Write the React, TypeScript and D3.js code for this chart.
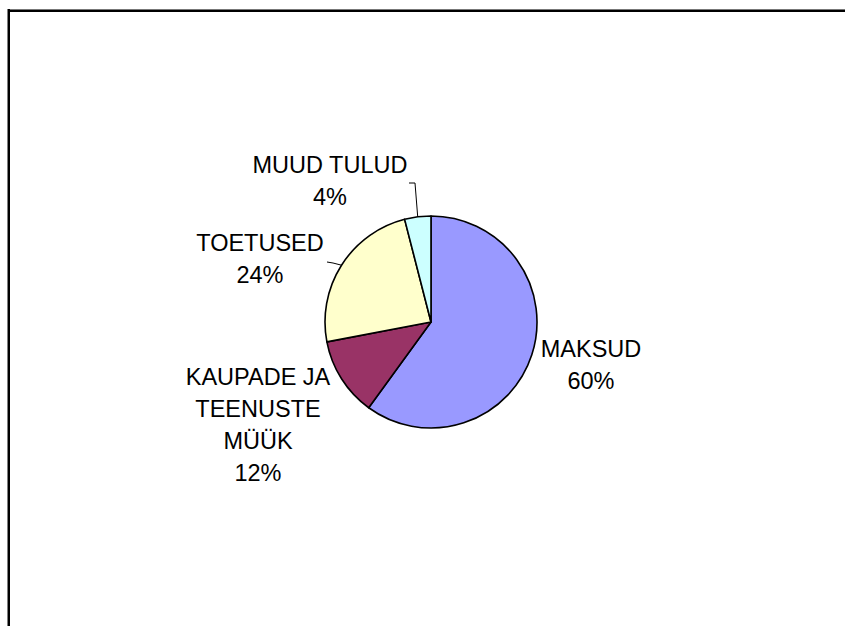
import React from "react";
import * as d3 from "d3";

const categories = ["MAKSUD", "KAUPADE JA TEENUSTE MÜÜK", "TOETUSED", "MUUD TULUD"];
const values = [60, 12, 24, 4];
const percentLabels = ["60%", "12%", "24%", "4%"];
const labelLines = [["MAKSUD"], ["KAUPADE JA", "TEENUSTE", "MÜÜK"], ["TOETUSED"], ["MUUD TULUD"]];
const colors = ["#9999FF", "#993366", "#FFFFCC", "#CCFFFF"];

const W = 845;
const H = 626;
const cx = 431;
const cy = 322;
const radius = 106;
const fontSize = 23.5;
const lineH = 32;

// where each label block sits (center x, first baseline), relative to the pie center
const labelPlace = [
  { dx: 160, dy: 35 },
  { dx: -173, dy: 63 },
  { dx: -171, dy: -71 },
  { dx: -101, dy: -149 },
];
// which labels get a leader line, and where it starts (relative to center)
const leaderStart: { [k: number]: [number, number] } = {
  2: [-104, -60],
  3: [-22, -139],
};

function App() {
  const pie = d3.pie<number>().sort(null).startAngle(0).endAngle(2 * Math.PI);
  const arcs = pie(values);
  const arc = d3.arc<d3.PieArcDatum<number>>().innerRadius(0).outerRadius(radius);
  const edge = d3.arc<d3.PieArcDatum<number>>().innerRadius(radius).outerRadius(radius);

  return (
    <div style={{ position: "fixed", left: 0, top: 0, width: W, height: H, background: "#fff" }}>
      <svg width={W} height={H} style={{ display: "block" }}>
        {/* frame: only top and left edges visible */}
        <line x1={8} y1={9.5} x2={W} y2={9.5} stroke="#777" strokeWidth={1} />
        <line x1={8} y1={11} x2={W} y2={11} stroke="#000" strokeWidth={2} />
        <line x1={8.75} y1={9} x2={8.75} y2={H} stroke="#000" strokeWidth={2.5} />

        <g transform={`translate(${cx},${cy})`}>
          {arcs.map((a, i) => (
            <path key={i} d={arc(a) || ""} fill={colors[i]} stroke="#000" strokeWidth={1.6} strokeLinejoin="round" />
          ))}

          {arcs.map((a, i) => {
            const s = leaderStart[i];
            if (!s) return null;
            const [ex, ey] = edge.centroid(a);
            const pts = [s, [s[0] + 6, s[1] + (i === 2 ? 1 : 0)], [ex, ey]];
            return (
              <path
                key={"l" + i}
                d={d3.line()(pts as [number, number][]) || ""}
                fill="none"
                stroke="#000"
                strokeWidth={1}
              />
            );
          })}

          {arcs.map((a, i) => {
            const p = labelPlace[i];
            const lines = [...labelLines[i], percentLabels[i]];
            return (
              <text
                key={"t" + i}
                x={p.dx}
                y={p.dy}
                textAnchor="middle"
                fontFamily="'Liberation Sans', Arial, sans-serif"
                fontSize={fontSize}
                fill="#000"
              >
                {lines.map((t, j) => (
                  <tspan key={j} x={p.dx} y={p.dy + j * lineH}>
                    {t}
                  </tspan>
                ))}
              </text>
            );
          })}
        </g>
      </svg>
    </div>
  );
}

export default App;
